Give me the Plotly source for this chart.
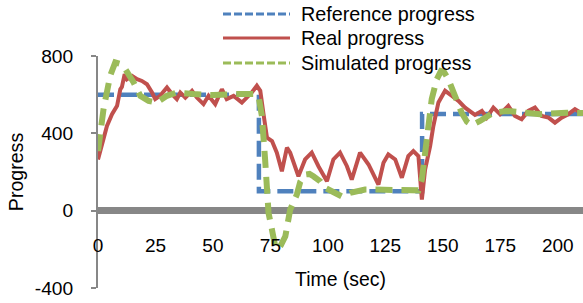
import plotly.graph_objects as go

# ---------------- data ----------------
ref_t = [0, 70, 70, 141, 141, 211]
ref_v = [600, 600, 100, 100, 500, 500]

real_t = [0, 1.7, 3.9, 6.1, 8.3, 9.7, 10.4, 11.6, 12.6, 14.8, 17, 19.1, 21.3, 23.5, 24.9,
          27, 30, 32.2, 34.3, 35.8, 38, 40.9, 43, 45.9, 48.1, 51, 53.9, 56, 59, 62.6,
          64.7, 66.9, 69.1, 70.6, 72, 73.5, 75.7, 77.8, 80, 82.2, 83.6, 87.2, 90.1, 93,
          95.9, 99.6, 102.4, 105.3, 108.3, 110.4, 114, 117.7, 122, 124.2, 126.3, 129.3,
          132.2, 135, 137.2, 139.4, 140.9, 142.3, 144.5, 145.9, 148.1, 151, 154, 156.8,
          159.7, 161.9, 164, 167, 169.1, 172, 174.9, 178.5, 181.4, 184.3, 187.2, 190.1,
          193, 196, 198.8, 201.7, 204.6, 207.5, 209.7, 211]
real_v = [265, 334, 438, 499, 542, 628, 640, 706, 680, 697, 680, 671, 654, 611, 577,
          594, 637, 603, 577, 611, 585, 620, 585, 551, 594, 551, 628, 577, 594, 559,
          585, 611, 646, 620, 500, 378, 360, 300, 204, 326, 300, 178, 265, 300,
          230, 152, 265, 300, 230, 161, 300, 239, 135, 248, 291, 265,
          170, 282, 308, 282, 57, 213, 334, 438, 560, 620, 594, 568,
          533, 516, 495, 516, 481, 533, 499, 542, 490, 473, 516, 533,
          490, 481, 455, 481, 499, 525, 507, 500]

sim_t = [0, 2.4, 5.3, 7.5, 9.5, 11.9, 15.5, 18.4, 22, 25.6, 30, 34.3, 41.5, 50.2, 58.9,
         67.6, 69.8, 71.3, 72.7, 74.2, 75.7, 77.1, 78.3, 79.5, 81.5, 83.6, 86.5, 88,
         90.1, 92, 93.7, 96.7, 98.8, 103.2, 106, 109.7, 116.2, 120.5, 127, 133, 139.4,
         140.9, 143, 145.2, 147.4, 149.2, 150.5, 152.4, 155.3, 158.2, 160.5, 162.6,
         166.2, 172, 177.8, 183.6, 192.3, 203.9, 211]
sim_v = [308, 525, 698, 767, 760, 732, 663, 594, 568, 559, 594, 611, 603, 598, 603,
         603, 594, 490, 265, -12, -99, -185, -200, -180, -133, 5, 83, 150,
         187, 190, 178, 152, 118, 92, 74, 92, 109, 109, 105, 103, 105,
         161, 369, 577, 680, 722, 718, 680, 594, 507, 460, 443,
         464, 507, 516, 507, 499, 507, 505]

x_ticks = [0, 25, 50, 75, 100, 125, 150, 175, 200]
y_ticks = [-400, 0, 400, 800]
series_names = ["Reference progress", "Real progress", "Simulated progress"]

# ---------------- style ----------------
BLUE = "#4F81BD"
RED = "#C0504D"
GREEN = "#9BBB59"
GRAY = "#878787"
FONT = "Liberation Sans, Arial, sans-serif"

W, H = 583, 303
ML, MR, MT, MB = 98, 0, 56, 15
PW, PH = W - ML - MR, H - MT - MB


def pxx(x):
    return (x - ML) / PW


def pxy(y):
    return (H - MB - y) / PH


fig = go.Figure()
fig.add_trace(go.Scatter(x=ref_t, y=ref_v, mode="lines", name=series_names[0],
                         line=dict(color=BLUE, width=4.5, dash="16px,7px")))
fig.add_trace(go.Scatter(x=real_t, y=real_v, mode="lines", name=series_names[1],
                         line=dict(color=RED, width=4)))
fig.add_trace(go.Scatter(x=sim_t, y=sim_v, mode="lines", name=series_names[2],
                         line=dict(color=GREEN, width=6, dash="17px,9px")))

# manual legend (long line samples as in the original)
legend_rows = [14, 38, 63]
legend_styles = [dict(color=BLUE, width=3, dash="8px,3px"),
                 dict(color=RED, width=3),
                 dict(color=GREEN, width=3, dash="8px,3px")]
shapes = []
annotations = []
for name, yrow, st in zip(series_names, legend_rows, legend_styles):
    shapes.append(dict(type="line", xref="paper", yref="paper",
                       x0=pxx(223), x1=pxx(290), y0=pxy(yrow), y1=pxy(yrow), line=st))
    annotations.append(dict(xref="paper", yref="paper", x=pxx(299), y=pxy(yrow),
                            xanchor="left", yanchor="middle", showarrow=False,
                            text=name, font=dict(family=FONT, size=19.8, color="#000000")))

fig.update_layout(
    width=W, height=H,
    margin=dict(l=ML, r=MR, t=MT, b=MB, pad=0),
    paper_bgcolor="white", plot_bgcolor="white",
    showlegend=False,
    hovermode=False,
    font=dict(family=FONT, size=19, color="#000000"),
    shapes=shapes, annotations=annotations,
    xaxis=dict(range=[0, 211], tickvals=x_ticks, ticktext=[str(v) for v in x_ticks],
               showgrid=False, zeroline=False, showline=False, ticks="",
               anchor="free", position=pxy(232), automargin=False,
               tickfont=dict(family=FONT, size=19),
               title=dict(text="Time (sec)", standoff=17,
                          font=dict(family=FONT, size=19.4))),
    yaxis=dict(range=[-400, 800], tickvals=y_ticks, ticktext=[str(v) for v in y_ticks],
               showgrid=False, zeroline=True, zerolinecolor=GRAY, zerolinewidth=7,
               showline=True, linecolor=GRAY, linewidth=2,
               ticks="outside", ticklen=5, tickwidth=2, tickcolor=GRAY,
               ticklabelstandoff=14, automargin=False,
               tickfont=dict(family=FONT, size=19.2),
               title=dict(text="Progress", standoff=6,
                          font=dict(family=FONT, size=19.6))),
)

# remove the browser's default 8px body margin so the figure fills the window
fig.write_html("out.html",
               config={"displayModeBar": False, "staticPlot": True},
               post_script="document.body.style.margin='0px';"
                           "document.body.style.overflow='hidden';")
